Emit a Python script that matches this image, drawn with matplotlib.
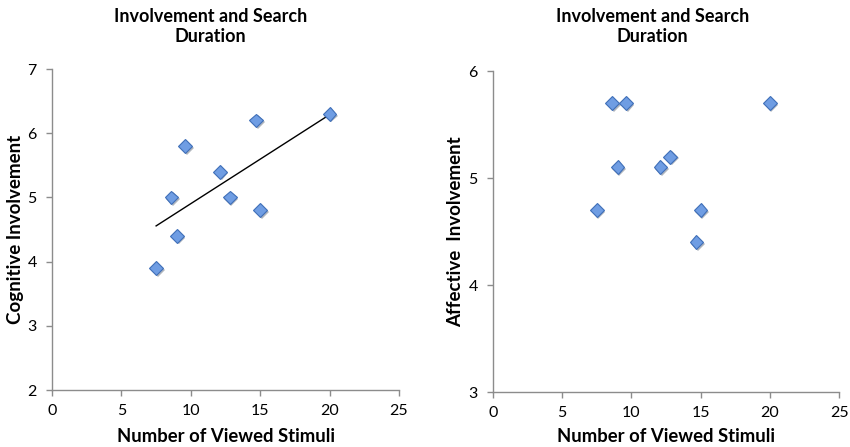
import numpy as np
import matplotlib
matplotlib.use('Agg')
from matplotlib import pyplot as plt
import matplotlib.patheffects as pe

plt.rcParams['font.family'] = ['Lato', 'DejaVu Sans']

# Number of viewed stimuli (shared x values)
stimuli = [7.5, 8.6, 9.0, 9.6, 12.1, 12.8, 14.7, 15.0, 20.0]
cognitive = [3.9, 5.0, 4.4, 5.8, 5.4, 5.0, 6.2, 4.8, 6.3]
affective = [4.7, 5.7, 5.1, 5.7, 5.1, 5.2, 4.4, 4.7, 5.7]

title = 'Involvement and Search\nDuration'
xlab = 'Number of Viewed Stimuli'
xticks = [0, 5, 10, 15, 20, 25]

fill = '#6f9de3'
edge = '#3f6fb8'
spine_col = '#8c8c8c'

fig = plt.figure(figsize=(8.5, 4.47), dpi=100)
ax1 = fig.add_axes([0.0612, 0.1275, 0.4082, 0.7181])
ax2 = fig.add_axes([0.580, 0.123, 0.4071, 0.718])


def style(ax, ylim, yticks, ylabel, xl_y, yl_x):
    ax.set_xlim(0, 25)
    ax.set_ylim(*ylim)
    ax.set_xticks(xticks)
    ax.set_yticks(yticks)
    for s in ['top', 'right']:
        ax.spines[s].set_visible(False)
    for s in ['left', 'bottom']:
        ax.spines[s].set_color(spine_col)
        ax.spines[s].set_linewidth(1.0)
    ax.tick_params(direction='out', length=4, width=1, color=spine_col,
                   labelsize=11.5, labelcolor='black')
    ax.tick_params(axis='x', pad=6)
    ax.tick_params(axis='y', pad=7)
    ax.set_xlabel(xlab, fontsize=13.3, fontweight='bold')
    ax.set_ylabel(ylabel, fontsize=13.5, fontweight='bold')
    ax.xaxis.set_label_coords(0.5, xl_y)
    ax.yaxis.set_label_coords(yl_x, 0.5)


shadow = [pe.SimplePatchShadow(offset=(1.2, -1.2), alpha=0.35), pe.Normal()]

# left panel: cognitive involvement with linear trend
slope, icpt = np.polyfit(stimuli, cognitive, 1)
xs = np.array([min(stimuli), max(stimuli)])
ax1.plot(xs, slope * xs + icpt, color='black', lw=1.0, zorder=2)
ax1.plot(stimuli, cognitive, 'D', ms=7, mfc=fill, mec=edge, mew=0.8,
         zorder=3, path_effects=shadow)
style(ax1, (2, 7), [2, 3, 4, 5, 6, 7], 'Cognitive Involvement', -0.118, -0.08)

# right panel: affective involvement
ax2.plot(stimuli, affective, 'D', ms=7, mfc=fill, mec=edge, mew=0.8,
         zorder=3, path_effects=shadow)
style(ax2, (3, 6), [3, 4, 5, 6], 'Affective  Involvement', -0.112, -0.084)

fig.text(0.248, 0.982, title, ha='center', va='top', fontsize=13,
         fontweight='bold', linespacing=1.2)
fig.text(0.768, 0.982, title, ha='center', va='top', fontsize=13,
         fontweight='bold', linespacing=1.2)

fig.savefig('out.png', dpi=100)
